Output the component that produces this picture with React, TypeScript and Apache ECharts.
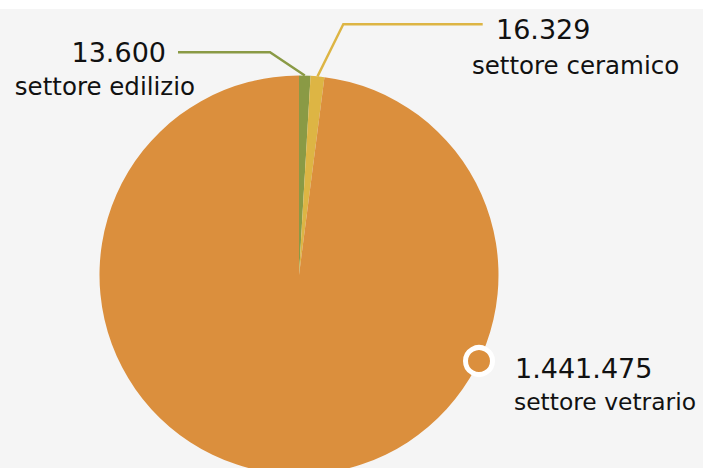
import React, { useEffect, useRef } from "react";
import * as echarts from "echarts";

const categories = ["settore edilizio", "settore ceramico", "settore vetrario"];
const values = [13600, 16329, 1441475];
const colors = ["#8A9A45", "#DDB544", "#DB8F3D"];

const fmt = (n: number) => n.toString().replace(/\B(?=(\d{3})+(?!\d))/g, ".");

export default function App() {
  const ref = useRef<HTMLDivElement>(null);
  useEffect(() => {
    document.body.style.margin = "0";
    const chart = echarts.init(ref.current!, undefined, { renderer: "svg" });
    const layouts = [
      { x: 195, y: 69.5, align: "right", pts: [[270, 52.3], [178, 52.3]] },
      { x: 472, y: 47.5, align: "left", pts: [[343.3, 24.3], [482.7, 24.3]] },
      { x: 514, y: 385.5, align: "left", pts: null as any },
    ];
    const pads = [
      [0, 29, 0, 0],
      [0, 0, 0, 24],
      [0, 0, 0, 1],
    ];
    const lh = [
      [33.5, 33.5],
      [36, 36],
      [33.7, 33.7],
    ];
    const tsize = [24.5, 24.5, 23.4];
    chart.setOption({
      animation: false,
      backgroundColor: "#ffffff",
      graphic: [
        {
          type: "rect",
          z: -10,
          silent: true,
          shape: { x: 0, y: 9, width: 703, height: 459 },
          style: { fill: "#F5F5F5" },
        },
        {
          type: "circle",
          z: 100,
          silent: true,
          shape: { cx: 479, cy: 361, r: 13.5 },
          style: { fill: colors[2], stroke: "#ffffff", lineWidth: 5 },
        },
      ],
      series: [
        {
          type: "pie",
          center: [299, 275],
          radius: 199.5,
          startAngle: 90,
          clockwise: true,
          silent: true,
          data: categories.map((name, i) => ({
            name,
            value: values[i],
            itemStyle: { color: colors[i] },
            label: {
              formatter: () => `{v|${fmt(values[i])}}\n{t|${name}}`,
              rich: {
                v: {
                  fontFamily: "DejaVu Sans",
                  fontSize: 27,
                  color: "#111111",
                  lineHeight: lh[i][0],
                  padding: pads[i],
                },
                t: {
                  fontFamily: "DejaVu Sans",
                  fontSize: tsize[i],
                  color: "#111111",
                  lineHeight: lh[i][1],
                },
              },
            },
            labelLine: {
              show: i < 2,
              lineStyle: { color: colors[i], width: 2.4 },
            },
          })),
          label: { show: true, position: "outside" },
          labelLine: { show: true, smooth: false },
          labelLayout: (params: any) => {
            const l = layouts[params.dataIndex];
            const res: any = {
              x: l.x,
              y: l.y,
              align: l.align,
              verticalAlign: "middle",
            };
            if (l.pts && params.labelLinePoints) {
              res.labelLinePoints = [params.labelLinePoints[0], ...l.pts];
            }
            return res;
          },
        },
      ],
    });
    return () => chart.dispose();
  }, []);
  return <div ref={ref} style={{ width: 703, height: 468 }} />;
}
